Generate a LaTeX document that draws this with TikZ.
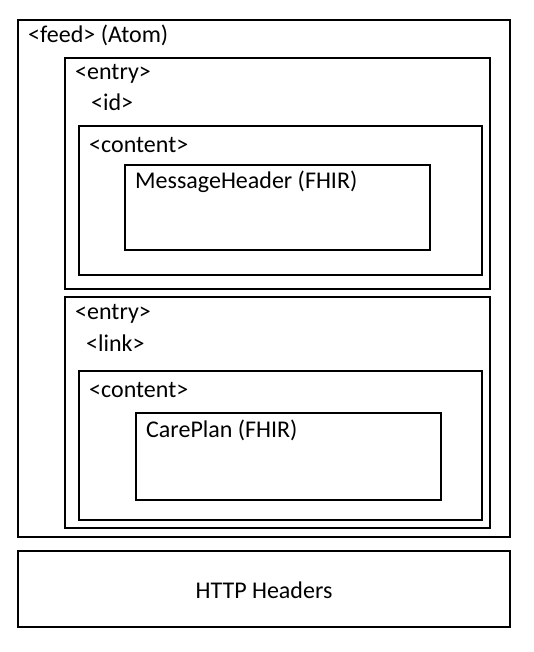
\documentclass[tikz,border=0pt]{standalone}
\usepackage{fontspec}
\setmainfont{Carlito}
\begin{document}
\begin{tikzpicture}[x=1pt,y=-1pt,
  box/.style={draw=black,line width=1.1pt},
  lbl/.style={anchor=west,inner sep=0pt,font=\fontsize{24}{27}\selectfont}]
\useasboundingbox (0,0) rectangle (533,652);
\draw[box] (18,20) rectangle (510,537);
\draw[box] (65,58) rectangle (490,289);
\draw[box] (79,126) rectangle (482,275);
\draw[box] (125,165) rectangle (430,250);
\draw[box] (65,297) rectangle (490,528);
\draw[box] (79,371) rectangle (482,520);
\draw[box] (136,413) rectangle (441,500);
\draw[box] (18,551) rectangle (510,627);
\node[lbl] (feed) at (28,35) {<feed> (Atom)};
\node[lbl] (e1) at (75,74) {<entry>};
\node[lbl] (id) at (91,102) {<id>};
\node[lbl] (c1) at (89,145) {<content>};
\node[lbl] (mh) at (135,182) {MessageHeader (FHIR)};
\node[lbl] (e2) at (75,314) {<entry>};
\node[lbl] (lk) at (86,343) {<link>};
\node[lbl] (c2) at (89,390) {<content>};
\node[lbl] (cp) at (146,430) {CarePlan (FHIR)};
\node[lbl,anchor=center] (http) at (264,590) {HTTP Headers};
\end{tikzpicture}
\end{document}
